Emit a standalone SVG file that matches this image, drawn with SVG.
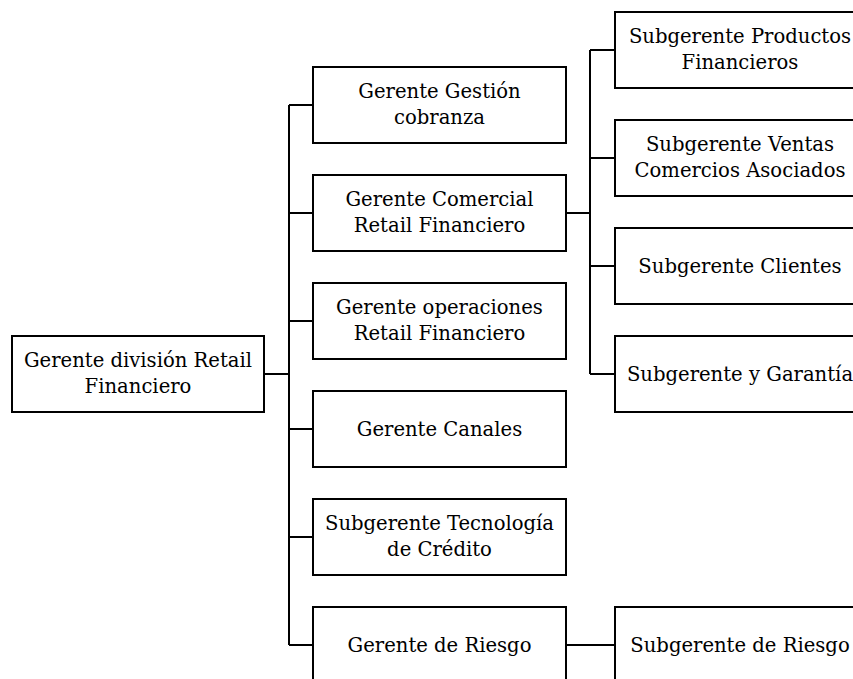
<svg xmlns="http://www.w3.org/2000/svg" width="853" height="679" viewBox="0 0 853 679">
  <style>
    .box { fill: #ffffff; stroke: #000000; stroke-width: 2; }
    .lbl { font-family: "DejaVu Serif", "Liberation Serif", serif; font-size: 19.6px; fill: #000000; text-anchor: middle; }
    .link { fill: none; stroke: #000000; stroke-width: 2; }
  </style>
  <rect width="853" height="679" fill="#ffffff"/>

  <!-- connectors -->
  <g id="connectors">
    <path class="link" d="M264 374 H289"/>
    <path class="link" d="M289 105 V645"/>
    <path class="link" d="M289 105 H313 M289 213 H313 M289 321 H313 M289 429 H313 M289 537 H313 M289 645 H313"/>
    <path class="link" d="M566 213 H590"/>
    <path class="link" d="M590 50 V374"/>
    <path class="link" d="M590 50 H615 M590 158 H615 M590 266 H615 M590 374 H615"/>
    <path class="link" d="M566 645 H615"/>
  </g>

  <!-- root -->
  <g id="gerente-division">
    <rect class="box" x="12" y="336" width="252" height="76"/>
    <text class="lbl" x="138" y="367">Gerente división Retail</text>
    <text class="lbl" x="138" y="393">Financiero</text>
  </g>

  <!-- second level -->
  <g id="gerente-gestion-cobranza">
    <rect class="box" x="313" y="67" width="253" height="76"/>
    <text class="lbl" x="439.5" y="98">Gerente Gestión</text>
    <text class="lbl" x="439.5" y="124">cobranza</text>
  </g>
  <g id="gerente-comercial">
    <rect class="box" x="313" y="175" width="253" height="76"/>
    <text class="lbl" x="439.5" y="206">Gerente Comercial</text>
    <text class="lbl" x="439.5" y="232">Retail Financiero</text>
  </g>
  <g id="gerente-operaciones">
    <rect class="box" x="313" y="283" width="253" height="76"/>
    <text class="lbl" x="439.5" y="314">Gerente operaciones</text>
    <text class="lbl" x="439.5" y="340">Retail Financiero</text>
  </g>
  <g id="gerente-canales">
    <rect class="box" x="313" y="391" width="253" height="76"/>
    <text class="lbl" x="439.5" y="436">Gerente Canales</text>
  </g>
  <g id="subgerente-tecnologia">
    <rect class="box" x="313" y="499" width="253" height="76"/>
    <text class="lbl" x="439.5" y="530">Subgerente Tecnología</text>
    <text class="lbl" x="439.5" y="556">de Crédito</text>
  </g>
  <g id="gerente-riesgo">
    <rect class="box" x="313" y="607" width="253" height="76"/>
    <text class="lbl" x="439.5" y="652">Gerente de Riesgo</text>
  </g>

  <!-- third level -->
  <g id="subgerente-productos">
    <rect class="box" x="615" y="12" width="253" height="76"/>
    <text class="lbl" x="740" y="43">Subgerente Productos</text>
    <text class="lbl" x="740" y="69">Financieros</text>
  </g>
  <g id="subgerente-ventas">
    <rect class="box" x="615" y="120" width="253" height="76"/>
    <text class="lbl" x="740" y="151">Subgerente Ventas</text>
    <text class="lbl" x="740" y="177">Comercios Asociados</text>
  </g>
  <g id="subgerente-clientes">
    <rect class="box" x="615" y="228" width="253" height="76"/>
    <text class="lbl" x="740" y="273">Subgerente Clientes</text>
  </g>
  <g id="subgerente-garantia">
    <rect class="box" x="615" y="336" width="253" height="76"/>
    <text class="lbl" x="740" y="381">Subgerente y Garantía</text>
  </g>
  <g id="subgerente-riesgo">
    <rect class="box" x="615" y="607" width="253" height="76"/>
    <text class="lbl" x="740" y="652">Subgerente de Riesgo</text>
  </g>
</svg>
